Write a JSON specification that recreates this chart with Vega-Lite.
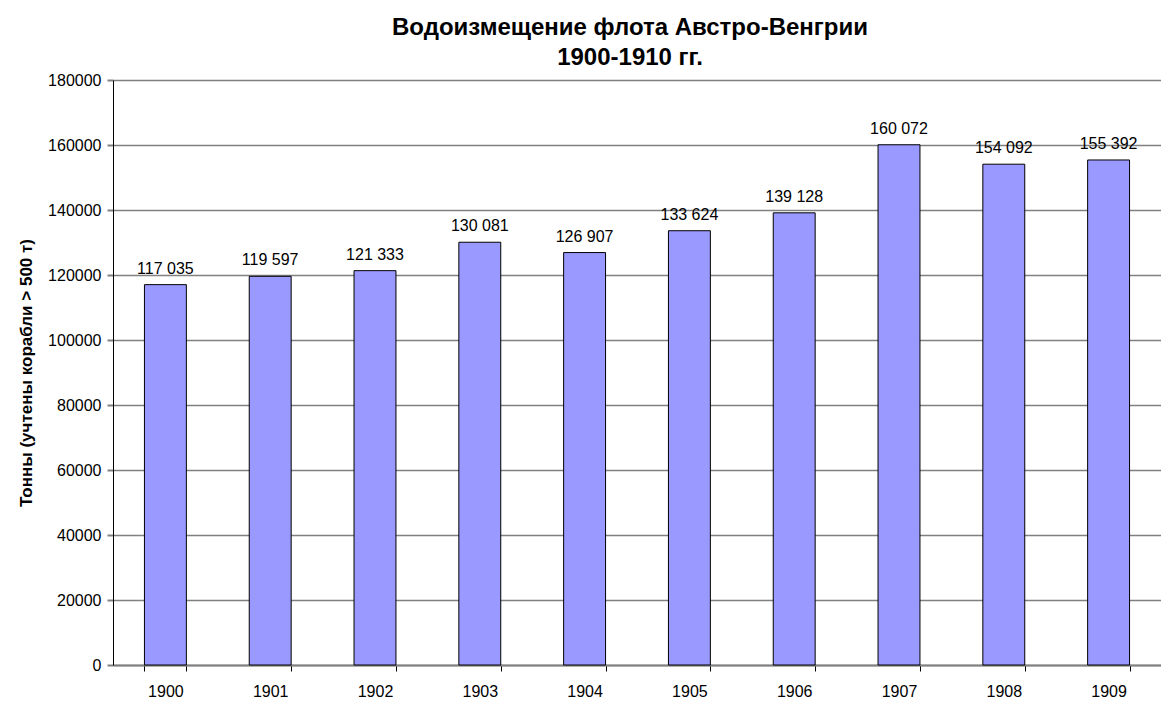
{
  "$schema": "https://vega.github.io/schema/vega-lite/v6.json",
  "autosize": {"type": "none"},
  "width": 1048,
  "height": 585,
  "padding": {"left": 113, "top": 80, "right": 0, "bottom": 48},
  "background": "white",
  "config": {
    "view": {"stroke": null},
    "font": "Liberation Sans",
    "locale": {"number": {"decimal": ",", "thousands": " ", "grouping": [3], "currency": ["", ""]}}
  },
  "title": {
    "text": ["Водоизмещение флота Австро-Венгрии", "1900-1910 гг."],
    "font": "Liberation Sans",
    "fontSize": 24,
    "fontWeight": "bold",
    "color": "black",
    "anchor": "middle",
    "dx": -7,
    "offset": 2,
    "lineHeight": 30
  },
  "data": {
    "values": [
      {"year": "1900", "tons": 117035},
      {"year": "1901", "tons": 119597},
      {"year": "1902", "tons": 121333},
      {"year": "1903", "tons": 130081},
      {"year": "1904", "tons": 126907},
      {"year": "1905", "tons": 133624},
      {"year": "1906", "tons": 139128},
      {"year": "1907", "tons": 160072},
      {"year": "1908", "tons": 154092},
      {"year": "1909", "tons": 155392}
    ]
  },
  "encoding": {
    "x": {
      "field": "year",
      "type": "nominal",
      "sort": null,
      "scale": {"paddingInner": 0.6, "paddingOuter": 0.3},
      "axis": {
        "title": null,
        "labelAngle": 0,
        "labelFont": "Liberation Sans",
        "labelFontSize": 16,
        "labelColor": "black",
        "labelPadding": 12,
        "domainColor": "#808080",
        "domainWidth": 2,
        "tickColor": "black",
        "tickBand": "extent",
        "tickSize": 6,
        "grid": false
      }
    },
    "y": {
      "field": "tons",
      "type": "quantitative",
      "scale": {"domain": [0, 180000], "nice": false},
      "axis": {
        "title": "Тонны (учтены корабли > 500 т)",
        "titleFont": "Liberation Sans",
        "titleFontSize": 17,
        "titleFontWeight": "bold",
        "titleColor": "black",
        "titlePadding": 12,
        "values": [0, 20000, 40000, 60000, 80000, 100000, 120000, 140000, 160000, 180000],
        "format": "d",
        "labelFont": "Liberation Sans",
        "labelFontSize": 16,
        "labelColor": "black",
        "labelPadding": 6,
        "domainColor": "black",
        "tickColor": "#808080",
        "tickSize": 6,
        "tickWidth": 2,
        "grid": true,
        "gridColor": "#808080",
        "gridWidth": 1.5
      }
    }
  },
  "layer": [
    {
      "mark": {"type": "bar", "color": "#9999FF", "stroke": "black", "strokeWidth": 1}
    },
    {
      "mark": {"type": "text", "baseline": "bottom", "dy": -8, "font": "Liberation Sans", "fontSize": 16, "color": "black"},
      "encoding": {"text": {"field": "tons", "type": "quantitative", "format": ",d"}}
    }
  ]
}
